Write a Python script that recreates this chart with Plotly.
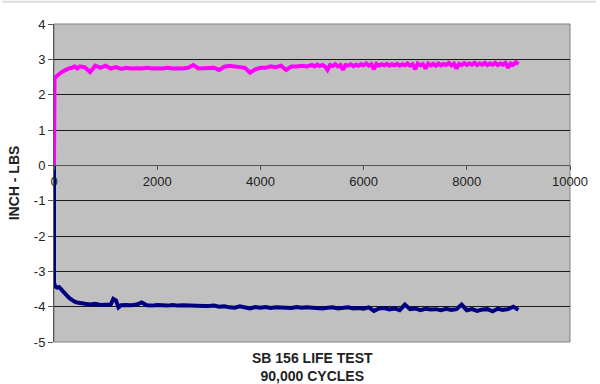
import plotly.graph_objects as go

# ---- data ----
mag_x = [0, 0, 10, 30, 60, 100, 150, 200, 250, 300, 350, 400, 450,
         500, 600, 700, 800, 900, 1000, 1100, 1200, 1300, 1400, 1500, 1600, 1700, 1800, 1900,
         2000, 2100, 2200, 2300, 2400, 2500, 2600, 2700, 2800, 2900, 3000, 3100, 3200, 3300,
         3400, 3500, 3600, 3700, 3800, 3900, 4000, 4100, 4200, 4300, 4400, 4500, 4600, 4700,
         4800, 4900,
         5000, 5050, 5100, 5150, 5200, 5250, 5300, 5350, 5400, 5450, 5500, 5550, 5600, 5650,
         5700, 5750, 5800, 5850, 5900, 5950, 6000, 6050, 6100, 6150, 6200, 6250, 6300, 6350,
         6400, 6450, 6500, 6550, 6600, 6650, 6700, 6750, 6800, 6850, 6900, 6950, 7000, 7050,
         7100, 7150, 7200, 7250, 7300, 7350, 7400, 7450, 7500, 7550, 7600, 7650, 7700, 7750,
         7800, 7850, 7900, 7950, 8000, 8050, 8100, 8150, 8200, 8250, 8300, 8350, 8400, 8450,
         8500, 8550, 8600, 8650, 8700, 8750, 8800, 8850, 8900, 8950, 9000]
mag_y = [0.0, 2.38, 2.44, 2.50, 2.54, 2.60, 2.64, 2.68, 2.72, 2.75, 2.76, 2.80, 2.74,
         2.80, 2.77, 2.64, 2.82, 2.76, 2.82, 2.74, 2.78, 2.73, 2.76, 2.74, 2.75, 2.74, 2.76, 2.74,
         2.75, 2.74, 2.76, 2.74, 2.75, 2.74, 2.76, 2.84, 2.74, 2.75, 2.74, 2.76, 2.70, 2.79,
         2.82, 2.81, 2.78, 2.76, 2.62, 2.72, 2.76, 2.76, 2.80, 2.78, 2.82, 2.70, 2.80, 2.80,
         2.82, 2.80,
         2.84, 2.80, 2.85, 2.81, 2.84, 2.80, 2.70, 2.84, 2.81, 2.86, 2.80, 2.84, 2.70, 2.84,
         2.82, 2.86, 2.81, 2.85, 2.82, 2.86, 2.83, 2.88, 2.82, 2.86, 2.72, 2.87, 2.82, 2.86,
         2.83, 2.87, 2.82, 2.86, 2.83, 2.87, 2.82, 2.86, 2.83, 2.88, 2.82, 2.86, 2.72, 2.88,
         2.83, 2.86, 2.74, 2.88, 2.83, 2.87, 2.82, 2.88, 2.83, 2.87, 2.84, 2.90, 2.83, 2.88,
         2.74, 2.87, 2.84, 2.89, 2.84, 2.88, 2.85, 2.90, 2.84, 2.88, 2.85, 2.90, 2.84, 2.88,
         2.85, 2.90, 2.84, 2.88, 2.85, 2.90, 2.76, 2.88, 2.85, 2.92, 2.86]

nav_x = [0, 0, 20, 60, 100, 140, 180, 220, 260, 300, 350, 400, 450,
         500, 600, 700, 800, 900, 1000, 1100, 1150, 1200, 1250, 1300, 1400, 1500, 1600, 1700,
         1800, 1900, 2000, 2100, 2200, 2300, 2400, 2500, 2600, 2700, 2800, 2900, 3000, 3100,
         3200, 3300, 3400, 3500, 3600, 3700, 3800, 3900, 4000, 4100, 4200, 4300, 4400, 4500,
         4600, 4700, 4800, 4900,
         5000, 5100, 5200, 5300, 5400, 5500, 5600, 5700, 5800, 5900, 6000, 6100, 6200, 6300,
         6400, 6500, 6600, 6700, 6800, 6900, 7000, 7100, 7200, 7300, 7400, 7500, 7600, 7700,
         7800, 7900, 8000, 8100, 8200, 8300, 8400, 8500, 8600, 8700, 8800, 8900, 9000]
nav_y = [0.0, -3.32, -3.42, -3.46, -3.45, -3.52, -3.60, -3.66, -3.70, -3.76, -3.82, -3.86, -3.88,
         -3.90, -3.92, -3.94, -3.92, -3.95, -3.95, -3.94, -3.78, -3.82, -4.02, -3.96, -3.95, -3.96, -3.94, -3.88,
         -3.96, -3.97, -3.95, -3.96, -3.97, -3.95, -3.97, -3.96, -3.97, -3.96, -3.97, -3.98, -3.98, -3.97,
         -4.00, -3.99, -4.02, -4.03, -3.99, -4.02, -4.05, -4.01, -4.03, -4.01, -4.04, -4.02, -4.03, -4.02,
         -4.04, -4.01, -4.03, -4.02,
         -4.03, -4.02, -4.05, -4.03, -4.02, -4.05, -4.04, -4.02, -4.05, -4.04, -4.06, -4.02, -4.12, -4.05,
         -4.04, -4.08, -4.05, -4.10, -3.94, -4.07, -4.05, -4.10, -4.06, -4.08, -4.07, -4.10, -4.06, -4.09,
         -4.07, -3.94, -4.10, -4.07, -4.12, -4.08, -4.07, -4.13, -4.06, -4.09, -4.07, -4.00, -4.09]

y_ticks = [4, 3, 2, 1, 0, -1, -2, -3, -4, -5]
x_ticks = [0, 2000, 4000, 6000, 8000, 10000]

title_lines = ["SB 156 LIFE TEST", "90,000 CYCLES"]
y_title = "INCH - LBS"

fig = go.Figure()
fig.add_trace(go.Scatter(x=mag_x, y=mag_y, mode="lines",
                         line=dict(color="#FF00FF", width=4), showlegend=False))
fig.add_trace(go.Scatter(x=nav_x, y=nav_y, mode="lines",
                         line=dict(color="#000080", width=4), showlegend=False))

font = dict(family="Arial, Liberation Sans, sans-serif", size=13, color="#222222")
bold_font = dict(family="Arial, Liberation Sans, sans-serif", size=14, color="#222222")

fig.update_layout(
    width=600, height=384,
    margin=dict(l=54, r=20, t=24, b=42),
    paper_bgcolor="white",
    plot_bgcolor="#C0C0C0",
    font=font,
    xaxis=dict(range=[0, 10000], tickvals=x_ticks, ticktext=[str(v) for v in x_ticks],
               showgrid=False, zeroline=False, anchor="free", position=5/9,
               showline=True, linecolor="#555555", linewidth=1,
               ticks="outside", ticklen=4, tickcolor="#555555", tickfont=font),
    yaxis=dict(range=[-5, 4], tickvals=y_ticks, ticktext=[str(v) for v in y_ticks],
               showgrid=True, gridcolor="#1a1a1a", gridwidth=1, zeroline=False,
               showline=True, linecolor="#555555", linewidth=1,
               ticks="outside", ticklen=5, tickcolor="#555555", tickfont=font,
               title=dict(text="<b>" + y_title + "</b>", font=bold_font, standoff=10)),
)

# plot-area border (right/top gray)
fig.add_shape(type="rect", xref="x domain", yref="y domain", x0=0, x1=1, y0=0, y1=1,
              line=dict(color="#808080", width=1), layer="below")

fig.add_annotation(text="<b>" + "<br>".join(title_lines) + "</b>", xref="paper", yref="paper",
                   x=0.5, y=-0.02, yanchor="top", showarrow=False, font=bold_font)

fig.add_shape(type="line", xref="paper", yref="paper", x0=-0.1, x1=1.05, y0=1.07, y1=1.07,
              line=dict(color="#dddddd", width=2))

fig.write_html("out.html")
